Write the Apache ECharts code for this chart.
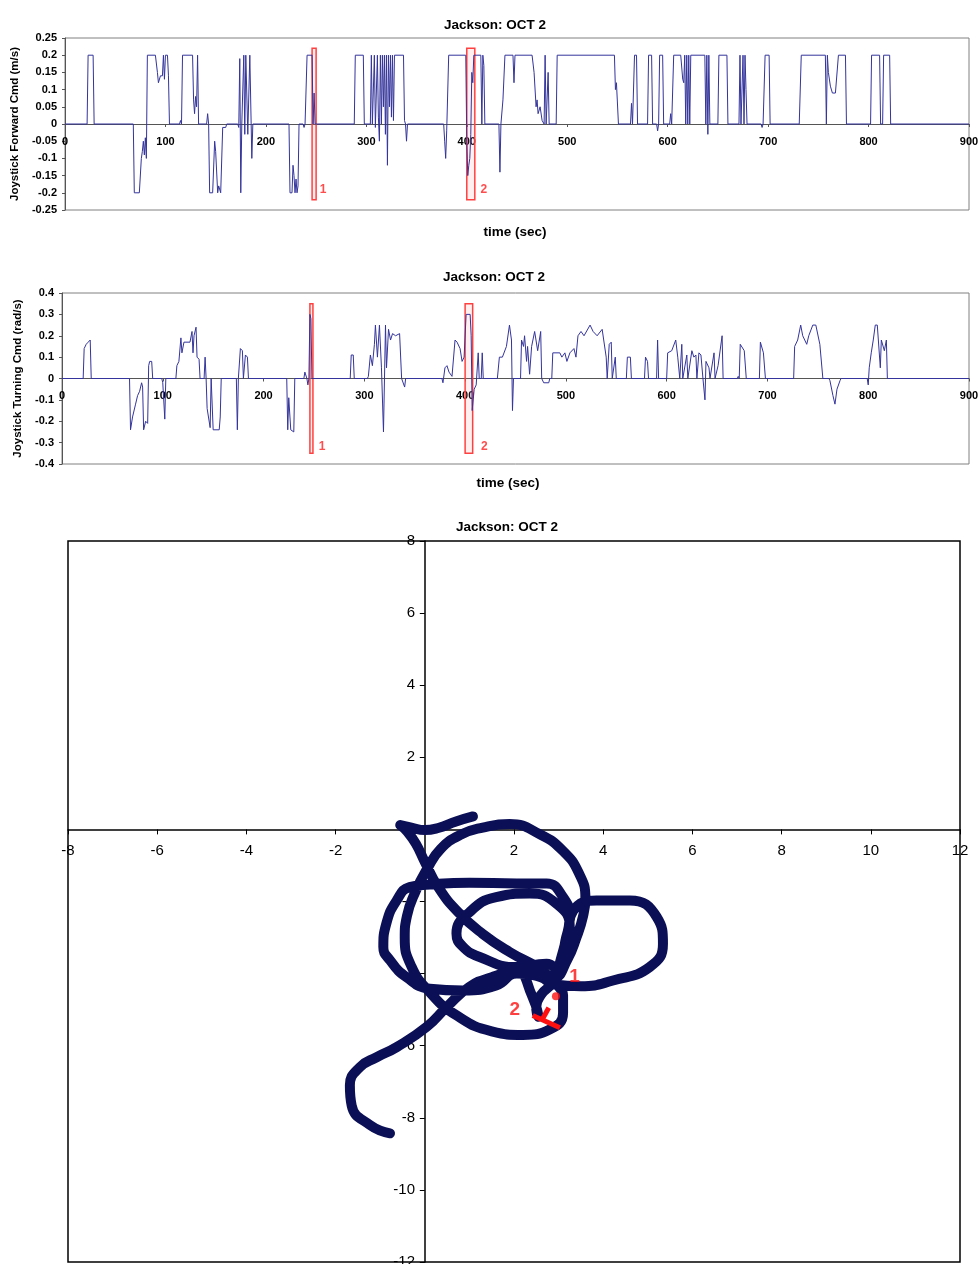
<!DOCTYPE html>
<html><head><meta charset="utf-8">
<script src="https://cdn.jsdelivr.net/npm/echarts@6/dist/echarts.min.js"></script>
<style>html,body{margin:0;padding:0;background:#fff}#c{width:979px;height:1264px}</style>
</head><body><div id="c"></div>
<script>
// ---- data ----
const chartTitle = 'Jackson: OCT 2';
const forwardCmd = [
[0,0],[22,0],[23,0.2],[28,0.2],[29,0],
[68,0],[69,-0.2],[74,-0.2],[76,-0.1],[77,-0.08],[78,-0.05],[79,-0.09],[80,-0.04],[81,-0.1],[82,0.2],[90,0.2],[92,0.15],[93,0.12],[95,0.14],[97,0.14],[98,0.2],[99,0.13],[100,0.2],[102,0.2],[103,0.14],[104,0],
[114,0],[115,0.01],[116,0],[117,0.2],[127,0.2],[128,0.07],[129,0.03],[130,0.08],[131,0.05],[132,0.2],[133,0],
[141,0],[142,0.03],[143,0],[144,-0.2],[147,-0.2],[149,-0.05],[150,-0.08],[152,-0.2],[153,-0.18],[155,-0.2],[157,-0.01],[160,-0.01],[161,0],
[172,0],[173,-0.01],[174,0.19],[175,-0.2],[176,0],[178,0.2],[179,-0.03],[180,0.2],[182,-0.03],[184,0.2],[186,-0.1],[187,0],
[223,0],[224,-0.2],[226,-0.2],[227,-0.12],[228,-0.15],[229,-0.2],[230,-0.16],[231,-0.2],[232,-0.18],[233,0],
[237,0],[238,-0.01],[239,0],[241,0.2],[246,0.2],[247,0],[248,0.09],[249,0],
[288,0],[289,0.2],[297,0.2],[298,0],
[304,0],[305,0.2],[306,0],[308,0.2],[309,-0.01],[311,0.2],[312,0.02],[313,-0.05],[314,0.2],[315,0],[316,0.2],[317,0.05],[318,0.2],[319,-0.03],[320,0.2],[321,-0.12],[322,0.2],[323,0.05],[324,0.2],[325,0.02],[326,0.2],[327,0.01],[328,0.2],[337,0.2],[338,0.01],[339,0],[340,-0.05],[341,0],
[377,0],[378,-0.05],[379,-0.1],[380,-0.02],[382,0.2],[399,0.2],[400,-0.05],[401,-0.15],[402,-0.12],[403,-0.1],[404,-0.03],[405,0.15],[406,0.12],[407,0.2],[414,0.2],[415,0],[416,0.2],[417,0.17],[418,0],
[432,0],[433,-0.14],[434,0],[436,0.07],[438,0.2],[446,0.2],[447,0.12],[448,0.2],[465,0.2],[467,0.15],[469,0.05],[470,0.07],[471,0.03],[473,0.05],[475,0.01],[477,0],[478,0.2],[479,0],[481,0.15],[482,0],
[489,0],[490,0.2],[547,0.2],[548,0.1],[549,0.12],[551,0],
[563,0],[564,0.06],[565,0],[567,0.2],[569,0.2],[570,0],[580,0],[581,0.2],[584,0.2],[585,0],[589,0],[590,-0.02],[591,0],[592,0.2],[595,0.2],[596,0],
[602,0],[603,0.03],[604,0],[606,0.2],[613,0.2],[615,0.13],[616,0.12],[617,0.2],[618,0],[619,0.2],[620,0],[621,0.2],[622,0],[623,0.2],[637,0.2],[638,0],[639,0.2],[640,-0.03],[641,0.2],[642,0],
[650,0],[651,0.2],[659,0.2],[660,0],[671,0],[672,0.2],[673,0],[675,0.2],[676,0],[677,0.2],[678,0.1],[679,0],
[693,0],[694,-0.01],[695,0],[697,0.2],[701,0.2],[702,0],
[731,0],[733,0.2],[757,0.2],[758,0],[759,0.2],[760,0.15],[762,0.11],[764,0.09],[767,0.09],[770,0.2],[777,0.2],[778,0],
[802,0],[803,0.2],[811,0.2],[812,0],[814,0],[815,0.2],[821,0.2],[822,0],[900,0]
];
const turningCmd = [
[0,0],[21,0],[22,0.14],[24,0.16],[26,0.17],[28,0.18],[29,0],
[67,0],[68,-0.24],[70,-0.18],[73,-0.12],[75,-0.08],[77,-0.06],[79,-0.02],[80,-0.04],[81,-0.24],[83,-0.2],[85,-0.21],[86,0.06],[87,0.08],[89,0.08],[90,0],
[99,0],[100,-0.02],[102,-0.19],[103,0],
[113,0],[114,0.06],[116,0.08],[118,0.19],[119,0.12],[121,0.17],[127,0.17],[129,0.22],[130,0.12],[131,0.2],[133,0.24],[134,0.1],[136,0.09],[137,0],
[141,0],[142,0.1],[143,0],[144,-0.14],[147,-0.23],[148,0],[150,-0.24],[156,-0.24],[157,-0.18],[158,0],
[173,0],[174,-0.24],[175,0],[177,0.14],[179,0.13],[180,0],[182,0.11],[184,0.1],[185,0],
[223,0],[224,-0.24],[225,-0.09],[227,-0.24],[230,-0.25],[231,0],
[240,0],[241,0.03],[243,0],[244,-0.03],[245,0],[246,0.3],[247,0.28],[248,0],
[286,0],[287,0.11],[289,0.11],[290,0],
[303,0],[304,0.01],[306,0.11],[308,0.06],[310,0.16],[311,0.25],[313,0.1],[315,0.25],[317,0.05],[319,-0.25],[321,0.25],[322,0.05],[324,0.23],[326,0.18],[328,0.21],[331,0.2],[335,0.21],[337,0],[340,-0.04],[341,0],
[377,0],[378,-0.02],[380,0.05],[382,0.06],[384,0.03],[387,0.01],[390,0.18],[392,0.17],[395,0.14],[397,0.08],[399,0.1],[401,0.3],[405,0.3],[406,0.2],[407,-0.15],[409,-0.05],[411,-0.03],[413,0.12],[414,0],[416,0],[417,0.12],[418,0],
[432,0],[434,0.1],[437,0.1],[441,0.15],[444,0.25],[446,0.18],[447,-0.15],[448,0],
[455,0],[456,0.18],[458,0.15],[459,0.2],[461,0.08],[462,0.15],[464,0.02],[466,0.15],[469,0.22],[472,0.13],[475,0.22],[476,0],[478,-0.02],[483,-0.02],[484,0],
[486,0],[487,0.12],[494,0.12],[496,0.1],[499,0.12],[501,0.08],[504,0.12],[508,0.14],[510,0.1],[512,0.2],[515,0.22],[518,0.2],[524,0.25],[527,0.22],[531,0.2],[536,0.23],[540,0.1],[541,0],[543,0.16],[545,0.17],[546,0],[549,0.1],[550,0],
[560,0],[561,0.1],[564,0.1],[565,0],[578,0],[579,0.1],[581,0.08],[582,0],[590,0],[591,0.18],[592,0],
[600,0],[601,0.12],[605,0.13],[609,0.18],[611,0.1],[613,0],[615,0.16],[616,0],[620,0.11],[621,0],[625,0.13],[627,0.1],[629,0.11],[630,0],[632,0.12],[634,0.11],[636,0],[638,-0.1],[639,0.08],[642,0.05],[643,0],[647,0.12],[648,0],[651,0.06],[655,0.2],[656,0],
[670,0],[671,0.01],[672,0],[673,0.16],[677,0.13],[679,0],[692,0],[693,0.17],[696,0.12],[698,0],
[726,0],[727,0.15],[730,0.18],[733,0.25],[735,0.2],[739,0.16],[741,0.2],[745,0.25],[748,0.25],[752,0.16],[755,0],
[761,0],[762,-0.01],[765,-0.08],[767,-0.12],[769,-0.05],[772,-0.01],[773,0],
[799,0],[800,-0.03],[801,0.05],[803,0.12],[805,0.18],[807,0.25],[809,0.25],[812,0.05],[813,0.18],[816,0.13],[818,0.18],[819,0],[900,0]
];
// highlighted time windows [start, end] and their labels [t, value, text]
const fwdBoxes = [[246,250],[400,408]];
const fwdBoxLabels = [[257,-0.19,'1'],[417,-0.19,'2']];
const trnBoxes = [[246,249],[400,407.5]];
const trnBoxLabels = [[258,-0.32,'1'],[419,-0.32,'2']];
// trajectory (x, y in m)
const pathPoints = [
[1.08,0.36],[0.7,0.22],[0.3,0.04],[0.0,-0.02],[-0.3,0.05],[-0.55,0.12],[-0.4,-0.05],[-0.2,-0.4],[0.0,-0.9],[0.3,-1.6],[0.75,-2.3],[1.3,-2.9],[1.9,-3.4],[2.5,-3.8],[2.9,-4.1],
[3.2,-3.6],[3.4,-3.0],[3.55,-2.4],[3.6,-1.9],[3.45,-1.2],[3.1,-0.6],[2.6,-0.15],[1.9,0.15],[1.3,0.05],[0.8,-0.15],[0.35,-0.55],[0.05,-1.1],[-0.2,-1.7],[-0.4,-2.4],[-0.45,-3.0],[-0.3,-3.8],[0.1,-4.5],[0.7,-5.15],[1.5,-5.6],[2.2,-5.7],[2.8,-5.55],[3.1,-5.1],[3.1,-4.6],[2.95,-4.2],
[3.2,-3.3],[3.25,-2.7],[2.95,-2.06],[2.35,-1.78],[1.6,-1.88],[1.0,-2.3],[0.71,-2.89],[0.85,-3.25],[1.23,-3.54],[2.06,-3.82],[2.73,-3.73],[3.0,-3.9],
[3.15,-3.1],[3.25,-2.43],[3.1,-1.88],[2.73,-1.5],[2.06,-1.5],[1.0,-1.48],[0.2,-1.52],[-0.34,-1.6],[-0.63,-1.97],[-0.86,-2.6],[-0.93,-3.26],[-0.78,-3.63],[-0.41,-4.1],[0.11,-4.42],[0.86,-4.47],[1.6,-4.33],[2.06,-4.0],[2.6,-4.1],[2.9,-4.3],
[3.5,-4.35],[4.22,-4.19],[5.04,-3.82],[5.34,-3.17],[5.2,-2.43],[4.6,-1.97],[3.85,-1.97],[3.33,-2.25],[3.2,-2.9],[3.05,-3.6],[2.9,-4.2],
[2.6,-4.6],[2.5,-5.0],[2.55,-5.2],[2.4,-4.6],[2.06,-3.95],[1.5,-4.1],[1.0,-4.37],[0.49,-4.93],[0.04,-5.48],[-0.63,-6.04],[-1.08,-6.32],[-1.46,-6.6],[-1.68,-7.1],[-1.64,-7.66],[-1.23,-8.2],[-0.78,-8.43]
];
const markSeg1 = [[2.42,-5.16],[3.03,-5.5]];
const markSeg2 = [[2.78,-4.95],[2.62,-5.3]];
const markDot = [[2.94,-4.63]];
const markLabels = [[3.36,-4.1,'1'],[2.02,-5.0,'2']];

// ---- chart ----
const FONT = '"Liberation Sans", Arial, sans-serif';
const chart = echarts.init(document.getElementById('c'), null, {renderer:'canvas'});
const lineBlue = '#34349c';
function boxArea(boxes, lo, hi){
  return boxes.map(b => [{xAxis:b[0], yAxis:lo},{xAxis:b[1], yAxis:hi}]);
}
function labelData(arr){ return arr.map(a => ({value:[a[0],a[1]], name:a[2]})); }
const noLabel = {show:false};
// axis that draws line + ticks on the zero line
const tsX = (gi) => ({
  gridIndex:gi, type:'value', min:0, max:900, interval:100,
  axisLine:{onZero:true, lineStyle:{color:'#555', width:1}},
  axisTick:{show:true, length:3, lineStyle:{color:'#555'}},
  axisLabel:noLabel, splitLine:{show:false}
});
// axis that only draws tick labels next to the zero line
const tsXLabels = (gi, off) => ({
  gridIndex:gi, type:'value', min:0, max:900, interval:100, position:'bottom', offset:off,
  axisLine:{show:false, onZero:false}, axisTick:{show:false},
  axisLabel:{color:'#000', fontSize:11, fontWeight:'bold', fontFamily:FONT, margin:12},
  splitLine:{show:false}
});
const titleStyle = {fontSize:13.5, fontWeight:'bold', fontFamily:FONT, color:'#000'};
chart.setOption({
  animation:false,
  backgroundColor:'#fff',
  title:[
    {text:chartTitle, left:490, top:13, textAlign:'center', textStyle:titleStyle},
    {text:'time (sec)', left:510, top:220, textAlign:'center', textStyle:titleStyle},
    {text:chartTitle, left:489, top:265, textAlign:'center', textStyle:titleStyle},
    {text:'time (sec)', left:503, top:471, textAlign:'center', textStyle:titleStyle},
    {text:chartTitle, left:502, top:515, textAlign:'center', textStyle:titleStyle}
  ],
  grid:[
    {left:65, top:38, width:904, height:172, show:true, borderColor:'#808080', borderWidth:1, backgroundColor:'#fff', containLabel:false, outerBoundsMode:'none'},
    {left:62, top:293, width:907, height:171, show:true, borderColor:'#808080', borderWidth:1, backgroundColor:'#fff', containLabel:false, outerBoundsMode:'none'},
    {left:68, top:541, width:892, height:721, show:true, borderColor:'#000', borderWidth:1.5, backgroundColor:'#fff', containLabel:false, outerBoundsMode:'none'}
  ],
  xAxis:[
    tsX(0), tsX(1),
    {gridIndex:2, type:'value', min:-8, max:12, interval:2,
     axisLine:{onZero:true, lineStyle:{color:'#000', width:1.5}},
     axisTick:{show:true, length:5, lineStyle:{color:'#000'}},
     axisLabel:noLabel, splitLine:{show:false}},
    tsXLabels(0, -86), tsXLabels(1, -85.5),
    {gridIndex:2, type:'value', min:-8, max:12, interval:2, position:'bottom', offset:-433,
     axisLine:{show:false, onZero:false}, axisTick:{show:false},
     axisLabel:{color:'#000', fontSize:15, fontFamily:FONT, margin:14, formatter:v => v===0?'':String(v)},
     splitLine:{show:false}}
  ],
  yAxis:[
    {gridIndex:0, type:'value', min:-0.25, max:0.25, interval:0.05,
     name:'Joystick Forward Cmd (m/s)', nameLocation:'middle', nameRotate:90, nameGap:42,
     nameTextStyle:{fontSize:11.5, fontWeight:'bold', fontFamily:FONT, color:'#000'},
     axisLine:{show:true, onZero:false, lineStyle:{color:'#555'}},
     axisTick:{show:true, length:3, lineStyle:{color:'#555'}},
     axisLabel:{color:'#000', fontSize:11, fontWeight:'bold', fontFamily:FONT, margin:8, formatter:v => String(+v.toFixed(2))},
     splitLine:{show:false}},
    {gridIndex:1, type:'value', min:-0.4, max:0.4, interval:0.1,
     name:'Joystick Turning Cmd (rad/s)', nameLocation:'middle', nameRotate:90, nameGap:35,
     nameTextStyle:{fontSize:11.5, fontWeight:'bold', fontFamily:FONT, color:'#000'},
     axisLine:{show:true, onZero:false, lineStyle:{color:'#555'}},
     axisTick:{show:true, length:3, lineStyle:{color:'#555'}},
     axisLabel:{color:'#000', fontSize:11, fontWeight:'bold', fontFamily:FONT, margin:8, formatter:v => String(+v.toFixed(2))},
     splitLine:{show:false}},
    {gridIndex:2, type:'value', min:-12, max:8, interval:2,
     axisLine:{onZero:true, lineStyle:{color:'#000', width:1.5}},
     axisTick:{show:true, length:5, lineStyle:{color:'#000'}},
     axisLabel:noLabel, splitLine:{show:false}},
    {gridIndex:2, type:'value', min:-12, max:8, interval:2, position:'left', offset:-357,
     axisLine:{show:false, onZero:false}, axisTick:{show:false},
     axisLabel:{color:'#000', fontSize:15, fontFamily:FONT, margin:10, formatter:v => v===0?'':String(v)},
     splitLine:{show:false}}
  ],
  series:[
    {type:'line', xAxisIndex:0, yAxisIndex:0, data:forwardCmd, showSymbol:false, symbol:'none',
     lineStyle:{color:lineBlue, width:1}, z:3,
     markArea:{silent:true, label:{show:false},
       itemStyle:{color:'rgba(255,120,120,0.12)', borderColor:'#ff4040', borderWidth:1.5},
       data:boxArea(fwdBoxes,-0.22,0.22)}},
    {type:'scatter', xAxisIndex:0, yAxisIndex:0, data:labelData(fwdBoxLabels), symbolSize:1,
     itemStyle:{color:'transparent'},
     label:{show:true, position:'inside', formatter:'{b}', color:'#ff2020', fontSize:12, fontWeight:'bold', fontFamily:FONT}},
    {type:'line', xAxisIndex:1, yAxisIndex:1, data:turningCmd, showSymbol:false, symbol:'none',
     lineStyle:{color:lineBlue, width:1}, z:3,
     markArea:{silent:true, label:{show:false},
       itemStyle:{color:'rgba(255,120,120,0.12)', borderColor:'#ff4040', borderWidth:1.5},
       data:boxArea(trnBoxes,-0.35,0.35)}},
    {type:'scatter', xAxisIndex:1, yAxisIndex:1, data:labelData(trnBoxLabels), symbolSize:1,
     itemStyle:{color:'transparent'},
     label:{show:true, position:'inside', formatter:'{b}', color:'#ff2020', fontSize:12, fontWeight:'bold', fontFamily:FONT}},
    {type:'line', xAxisIndex:2, yAxisIndex:2, data:pathPoints, showSymbol:false, symbol:'none', smooth:0.5,
     lineStyle:{color:'#0b0f55', width:10, cap:'round', join:'round'}, z:3},
    {type:'line', xAxisIndex:2, yAxisIndex:2, data:markSeg1, showSymbol:false, symbol:'none',
     lineStyle:{color:'#ff1010', width:5}, z:4},
    {type:'line', xAxisIndex:2, yAxisIndex:2, data:markSeg2, showSymbol:false, symbol:'none',
     lineStyle:{color:'#ff1010', width:5}, z:4},
    {type:'scatter', xAxisIndex:2, yAxisIndex:2, data:markDot, symbolSize:8,
     itemStyle:{color:'#ff1010'}, z:4},
    {type:'scatter', xAxisIndex:2, yAxisIndex:2, data:labelData(markLabels), symbolSize:1,
     itemStyle:{color:'transparent'}, z:5,
     label:{show:true, position:'inside', formatter:'{b}', color:'#ff1010', fontSize:19, fontWeight:'bold', fontFamily:FONT}}
  ]
});
</script></body></html>
